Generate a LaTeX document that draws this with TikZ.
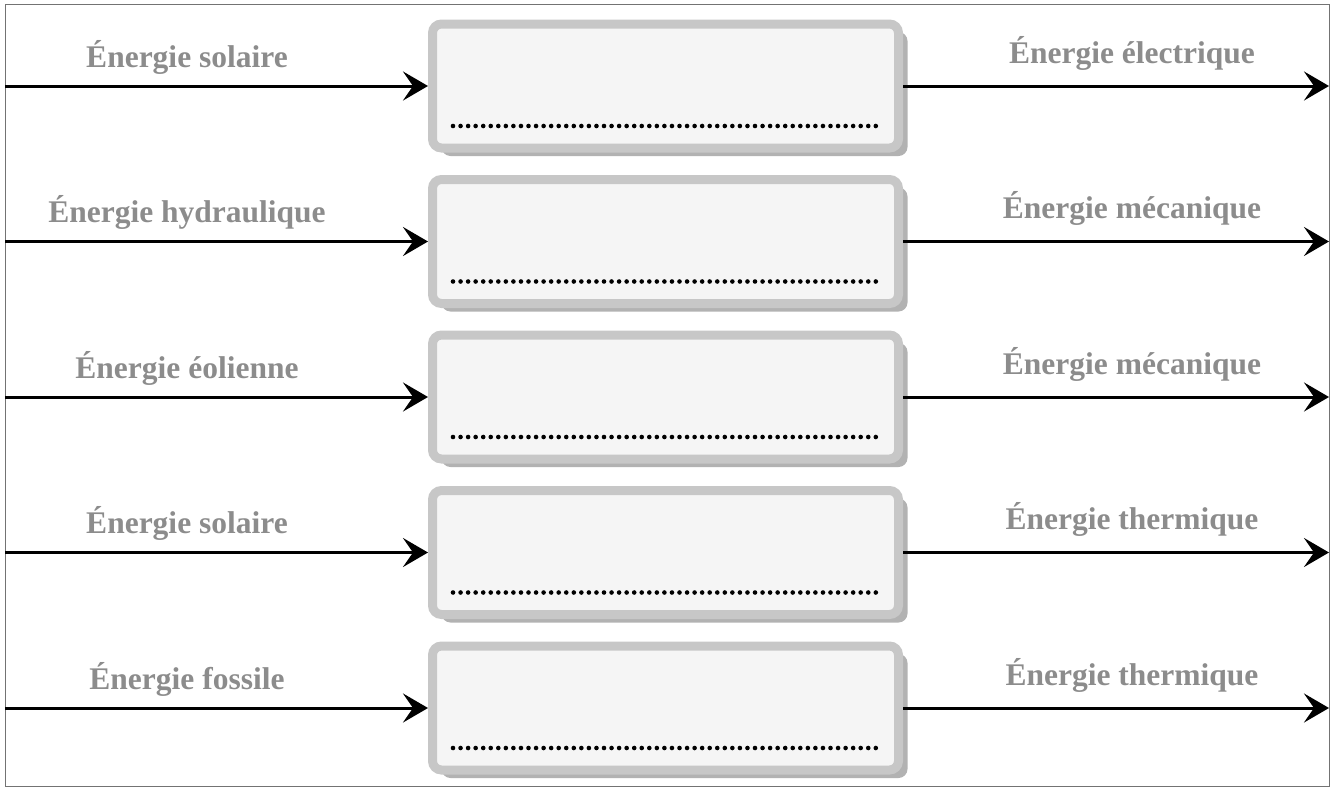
\documentclass[tikz,border=0pt]{standalone}
\usepackage{fontspec}
\setmainfont{Liberation Serif}
\usetikzlibrary{arrows.meta,shadows}

\begin{document}
\begin{tikzpicture}[x=1pt,y=-1pt]
\tikzset{
    convbox/.style={rectangle, rounded corners=9pt, draw=black!22, line width=9pt,
        fill=black!4, minimum width=466pt, minimum height=124pt, inner sep=0pt,
        drop shadow={shadow xshift=9pt, shadow yshift=-8pt, fill=black!30, opacity=1}},
    blank/.style={line width=4.6pt, line cap=round, dash pattern=on 0pt off 7.55pt},
    flow/.style={line width=3pt, -{Stealth[length=25pt,width=29pt,inset=10pt]}},
    kind/.style={anchor=base, text=black!45, font=\fontsize{31.5}{36}\selectfont\bfseries},
    frame line/.style={black!55, line width=.7pt}}

\useasboundingbox (0,0) rectangle (1334,788);
\draw[frame line] (5,4) rectangle (1329,786);

\foreach \src/\dst [count=\i] in {
    Énergie solaire/Énergie électrique,
    Énergie hydraulique/Énergie mécanique,
    Énergie éolienne/Énergie mécanique,
    Énergie solaire/Énergie thermique,
    Énergie fossile/Énergie thermique}{
    \pgfmathsetmacro\y{86+155.5*(\i-1)}
    \node[convbox] (box\i) at (665.5,\y) {};
    \draw[blank] (box\i.center)++(-212.5,40)--++(429,0);
    \coordinate (in\i) at (5,\y);
    \coordinate (out\i) at (1329,\y);
    \node[kind] (src\i) at (187,\y-19) {\src};
    \node[kind] (dst\i) at (1132,\y-23) {\dst};
    \draw[flow] (in\i) -- (box\i.west);
    \draw[flow] (box\i.east) -- (out\i);
}
\end{tikzpicture}
\end{document}
